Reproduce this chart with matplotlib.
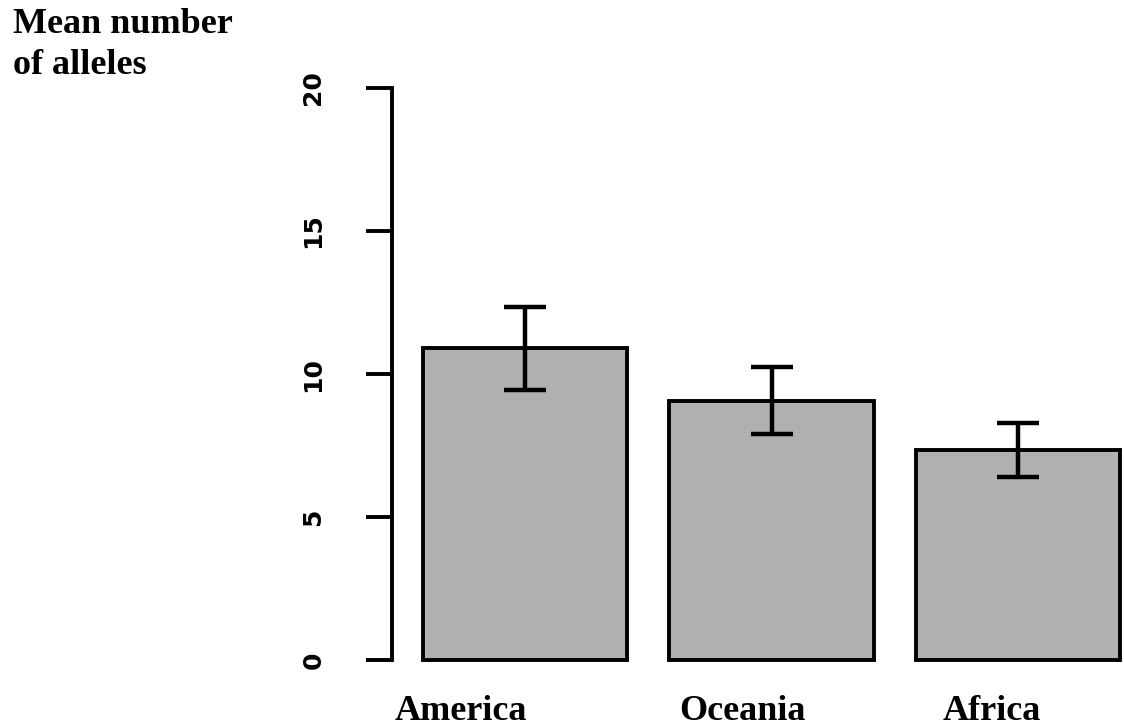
import matplotlib
matplotlib.use("Agg")
import matplotlib.pyplot as plt
import numpy as np

categories = ["America", "Oceania", "Africa"]
means = [10.9, 9.05, 7.35]
err_low = [9.45, 7.9, 6.4]
err_high = [12.35, 10.25, 8.3]
yticks = [0, 5, 10, 15, 20]
ylabel = "Mean number\nof alleles"

# horizontal nudges of the category labels (points), as placed in the original
label_dx = [-46, -21, -19]

W, H = 1124, 726
fig = plt.figure(figsize=(W / 100, H / 100), dpi=100)
left_px, right_px, top_px, bot_px = 392, 1124, 88, 660
ax = fig.add_axes([left_px / W, 1 - bot_px / H, (right_px - left_px) / W, (bot_px - top_px) / H])

x = np.arange(len(categories))
means_a = np.array(means)
yerr = np.vstack([means_a - np.array(err_low), np.array(err_high) - means_a])

ax.bar(x, means, width=0.83, color="#b0b0b0", edgecolor="black", linewidth=2.8, clip_on=False, zorder=2)
ax.errorbar(x, means, yerr=yerr, fmt="none", ecolor="black", elinewidth=3.2,
            capsize=15, capthick=3.2, zorder=3, clip_on=False)

ax.set_xlim(-0.54, 2.43)
ax.set_ylim(0, 20)
for s in ["top", "right", "bottom"]:
    ax.spines[s].set_visible(False)
ax.spines["left"].set_linewidth(2.8)
ax.spines["left"].set_bounds(0, 20)
ax.set_yticks(yticks)
ax.set_yticklabels([str(v) for v in yticks], rotation=90, va="center",
                   fontsize=18, fontweight="bold", family="DejaVu Sans")
ax.tick_params(axis="y", length=19, width=2.8, pad=29)
ax.set_xticks([])

for xi, c, dx in zip(x, categories, label_dx):
    ax.annotate(c, xy=(xi, 0), xycoords="data", xytext=(dx, -43), textcoords="offset points",
                ha="center", va="baseline", fontsize=26, fontweight="bold",
                family="Liberation Serif", annotation_clip=False)

fig.text(13 / W, 1 - 8 / H, ylabel, ha="left", va="top", fontsize=26,
         fontweight="bold", family="Liberation Serif", linespacing=1.3)

fig.savefig("out.png", dpi=100)
